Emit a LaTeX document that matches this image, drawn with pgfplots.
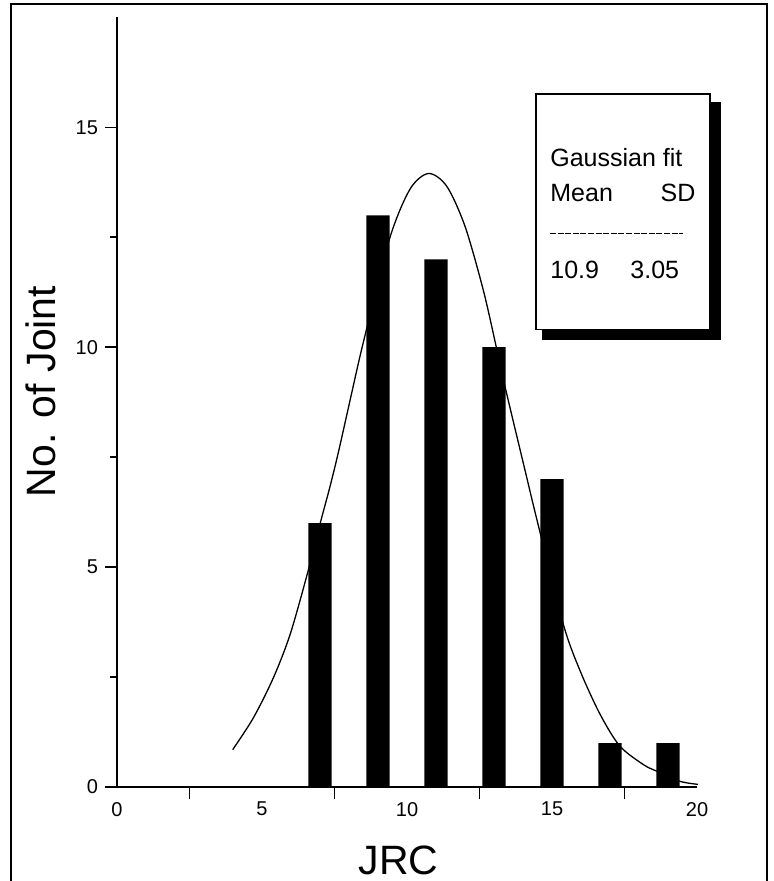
\documentclass[border=0pt]{standalone}
\usepackage{pgfplots}
\pgfplotsset{compat=1.18}
\usepackage{fontspec}
\setmainfont{Liberation Sans}
\begin{document}
\begin{tikzpicture}
\useasboundingbox (0,0) rectangle (386.5pt,440.5pt);
\draw[line width=1pt] (5.5pt,0) -- (5.5pt,438.25pt) -- (383.5pt,438.25pt) -- (383.5pt,0);
\begin{axis}[
  at={(58.5pt,47pt)}, anchor=south west,
  scale only axis, width=290pt, height=384.8pt,
  xmin=0, xmax=20, ymin=0, ymax=17.5,
  axis lines*=left,
  axis line style={line width=0.9pt},
  clip=false,
  tick align=outside,
  major tick length=6pt,
  minor tick length=3.3pt,
  every tick/.style={black, line width=0.8pt},
  xtick={2.5,7.5,12.5,17.5},
  xticklabels={},
  extra x ticks={0,5,10,15,20},
  extra x tick labels={0,5,10,15,20},
  extra x tick style={major tick length=0pt},
  ytick={0,5,10,15},
  minor ytick={2.5,7.5,12.5},
  /pgf/number format/assume math mode=true,
  tick label style={font=\fontsize{10}{12}\selectfont},
  xticklabel style={yshift=-4pt},
  xlabel={JRC},
  ylabel={No. of Joint},
  label style={font=\fontsize{20.5}{24}\selectfont},
  xlabel style={at={(axis description cs:0.4855,-0.095)}, anchor=center},
  ylabel style={at={(axis description cs:-0.1316,0.514)}, anchor=center, rotate=0},
]
\addplot[ybar, bar width=0.8, bar shift=0pt, fill=black, draw=none] coordinates {
  (7,6) (9,13) (11,12) (13,10) (15,7) (17,1) (19,1)
};
\addplot[smooth, tension=0.5, line width=0.65pt, black, mark=none] coordinates {
  (3.99,0.85) (4.70,1.57) (5.39,2.48) (5.97,3.47) (6.56,4.84) (7.00,5.98)
  (7.34,6.82) (7.63,7.60) (8.09,8.95) (8.49,10.10) (9.39,12.45) (10.1,13.59)
  (10.74,13.95) (11.37,13.66) (12.0,12.75) (12.63,11.30) (13.09,9.97)
  (13.41,9.02) (14.07,7.20) (14.49,6.05) (15.39,3.70) (15.97,2.64)
  (16.66,1.65) (17.34,0.93) (18.15,0.51) (18.61,0.36) (19.41,0.13) (20.03,0.06)
};
\fill[black] (axis cs:14.66,10.16) rectangle (axis cs:20.83,15.58);
\draw[fill=white, line width=0.6pt] (axis cs:14.45,10.41) rectangle (axis cs:20.45,15.76);
\begin{scope}[every node/.style={font=\fontsize{12.5}{15}\selectfont, inner sep=0pt}]
\node[anchor=base west] at (axis cs:14.93,14.10) {Gaussian fit};
\node[anchor=base west] at (axis cs:14.93,13.31) {Mean};
\node[anchor=base east] at (axis cs:19.96,13.31) {SD};
\node[anchor=base west] at (axis cs:14.93,11.57) {10.9};
\node[anchor=base west] at (axis cs:17.69,11.57) {3.05};
\end{scope}
\draw[line width=0.8pt, dash pattern=on 3pt off 0.8pt] (axis cs:14.93,12.59) -- (axis cs:19.52,12.59);
\end{axis}
\end{tikzpicture}
\end{document}
